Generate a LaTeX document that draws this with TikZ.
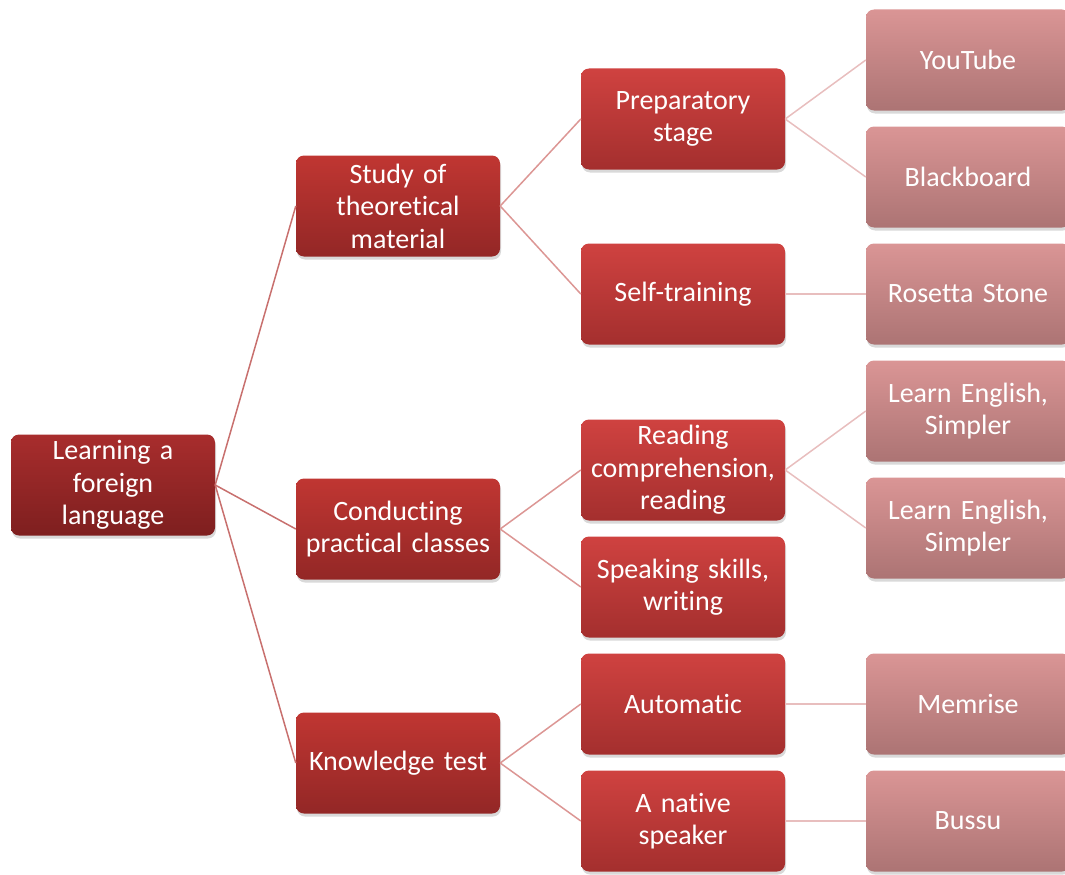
\documentclass[tikz,border=0pt]{standalone}
\usepackage{fontspec}
\setmainfont[WordSpace=0.8, Ligatures=NoCommon]{Carlito}
\usetikzlibrary{shadows}

\definecolor{rootTop}{HTML}{A82D2D}
\definecolor{rootBot}{HTML}{7E1F1F}
\definecolor{topicTop}{HTML}{C03632}
\definecolor{topicBot}{HTML}{932726}
\definecolor{stageTop}{HTML}{CF4240}
\definecolor{stageBot}{HTML}{A42F2E}
\definecolor{toolTop}{HTML}{DA9595}
\definecolor{toolBot}{HTML}{AC7474}

\begin{document}
\begin{tikzpicture}[x=1pt, y=-1pt,
	box/.style={rounded corners=8pt, minimum width=204pt, minimum height=101pt,
		text width=200pt, align=center, text=white, inner sep=0pt,
		font=\fontsize{28}{32.5}\selectfont,
		drop shadow={shadow xshift=1pt, shadow yshift=-3pt, opacity=0.3}},
	rootbox/.style={box, top color=rootTop, bottom color=rootBot},
	topicbox/.style={box, top color=topicTop, bottom color=topicBot},
	stagebox/.style={box, top color=stageTop, bottom color=stageBot},
	toolbox/.style={box, top color=toolTop, bottom color=toolBot},
	link/.style={line width=1.5pt}]

	\useasboundingbox (0,0) rectangle (1065,875);

	% root
	\node [rootbox] (learn) at (113,485) {Learning a\\foreign\\language};

	% topics
	\node [topicbox] (study) at (398,206) {Study of\\theoretical\\material};
	\node [topicbox] (practice) at (398,529) {Conducting\\practical classes};
	\node [topicbox] (test) at (398,763) {Knowledge test};

	% stages
	\node [stagebox] (prep) at (683,119) {Preparatory\\stage};
	\node [stagebox] (self) at (683,294) {Self-training};
	\node [stagebox] (reading) at (683,470) {Reading\\comprehension,\\reading};
	\node [stagebox] (speaking) at (683,587) {Speaking skills,\\writing};
	\node [stagebox] (auto) at (683,704) {Automatic};
	\node [stagebox] (native) at (683,821) {A native\\speaker};

	% tools
	\node [toolbox] (youtube) at (968,60) {YouTube};
	\node [toolbox] (blackboard) at (968,177) {Blackboard};
	\node [toolbox] (rosetta) at (968,294) {Rosetta Stone};
	\node [toolbox] (englishA) at (968,411) {Learn English,\\Simpler};
	\node [toolbox] (englishB) at (968,528) {Learn English,\\Simpler};
	\node [toolbox] (memrise) at (968,704) {Memrise};
	\node [toolbox] (bussu) at (968,821) {Bussu};

	% connectors
	\foreach \a/\b in {learn/study, learn/practice, learn/test}
		\draw [link, color={rgb,255:red,200;green,112;blue,110}] (\a.east) -- (\b.west);
	\foreach \a/\b in {study/prep, study/self, practice/reading, practice/speaking, test/auto, test/native}
		\draw [link, color={rgb,255:red,220;green,150;blue,148}] (\a.east) -- (\b.west);
	\foreach \a/\b in {prep/youtube, prep/blackboard, self/rosetta, reading/englishA, reading/englishB, auto/memrise, native/bussu}
		\draw [link, color={rgb,255:red,232;green,190;blue,190}] (\a.east) -- (\b.west);

\end{tikzpicture}
\end{document}
